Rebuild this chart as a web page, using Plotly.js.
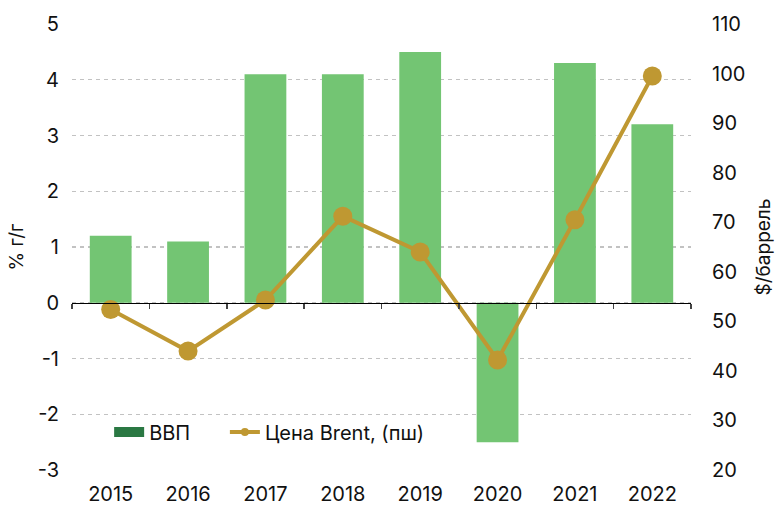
<!DOCTYPE html>
<html>
<head>
<meta charset="utf-8">
<script src="https://cdn.plot.ly/plotly-3.0.1.min.js"></script>
<style>html,body{margin:0;padding:0;background:#fff;}#chart{width:777px;height:506px;}</style>
</head>
<body>
<div id="chart"></div>
<script>
var years = ['2015','2016','2017','2018','2019','2020','2021','2022'];
var gdp = [1.2, 1.1, 4.1, 4.1, 4.5, -2.5, 4.3, 3.2];
var brent = [52.4, 44.0, 54.3, 71.2, 64.0, 42.2, 70.5, 99.5];
var gdpName = 'ВВП';
var brentName = 'Цена Brent, (пш)';
var leftTicks = [-3,-2,-1,0,1,2,3,4,5];
var rightTicks = [20,30,40,50,60,70,80,90,100,110];

var barColor = '#73c573';
var legendBarColor = '#2a7843';
var lineColor = '#bf9832';
var font = 'Inter, "Noto Sans", sans-serif';

var traces = [
  {type:'bar', x: years, y: gdp, name: gdpName, marker:{color: barColor}, showlegend:false, xaxis:'x', yaxis:'y'},
  {type:'scatter', mode:'lines', x: [null], y: [null], name: gdpName, line:{color: legendBarColor, width:11}, showlegend:true, legend:'legend', xaxis:'x', yaxis:'y'},
  {type:'scatter', mode:'lines+markers', x: years, y: brent, name: brentName, yaxis:'y2', xaxis:'x',
    line:{color: lineColor, width:4}, marker:{color: lineColor, size:19}, showlegend:false},
  {type:'scatter', mode:'lines+markers', x: [null], y: [null], name: brentName, yaxis:'y2', xaxis:'x',
    line:{color: lineColor, width:4}, marker:{color: lineColor, size:8}, showlegend:true, legend:'legend2'},
  {type:'scatter', mode:'none', x: years, y: gdp, xaxis:'x2', yaxis:'y', showlegend:false, hoverinfo:'skip'}
];

var layout = {
  width: 777, height: 506,
  margin: {l:72, r:85.5, t:23.5, b:36, pad:0},
  paper_bgcolor:'#fff', plot_bgcolor:'#fff',
  font: {family: font, size: 20, color:'#111'},
  bargap: 0.46,
  showlegend: true,
  legend: {orientation:'h', x:0.06, xanchor:'left', y:0.085, yanchor:'middle',
    bgcolor:'rgba(0,0,0,0)', font:{size:20, family: font}},
  legend2: {orientation:'h', x:0.247, xanchor:'left', y:0.085, yanchor:'middle',
    bgcolor:'rgba(0,0,0,0)', font:{size:20, family: font}},
  xaxis: {type:'category', categoryorder:'array', categoryarray: years, range:[-0.5, 7.5],
    showgrid:false, zeroline:false, showline:false, ticks:'', tickfont:{size:20},
    ticklabelstandoff: 10, fixedrange:true},
  xaxis2: {type:'category', categoryorder:'array', categoryarray: years, range:[-0.5, 7.5],
    overlaying:'x', anchor:'free', position: 0.375, side:'bottom',
    showgrid:false, zeroline:false, showline:true, linecolor:'#000', linewidth:1.5,
    ticks:'outside', tickson:'boundaries', ticklen:5, tickwidth:1.5, tickcolor:'#444',
    showticklabels:false},
  yaxis: {range:[-3, 5], tickvals: leftTicks, ticktext: leftTicks.map(String),
    showgrid:true, gridcolor:'#c2c2c2', griddash:'4px,4px', gridwidth:1.2,
    zeroline:false, showline:false, ticks:'', tickfont:{size:20}, ticklabelstandoff: 12,
    title:{text:'% г/г', font:{size:19}, standoff: 9}},
  yaxis2: {range:[20, 110], tickvals: rightTicks, overlaying:'y', side:'right', showgrid:false,
    zeroline:false, showline:false, ticks:'', tickfont:{size:20}, ticklabelstandoff: 20,
    title:{text:'$/баррель', font:{size:19}, standoff: 12}}
};

Plotly.newPlot('chart', traces, layout, {displayModeBar:false, staticPlot:true});
</script>
</body>
</html>
